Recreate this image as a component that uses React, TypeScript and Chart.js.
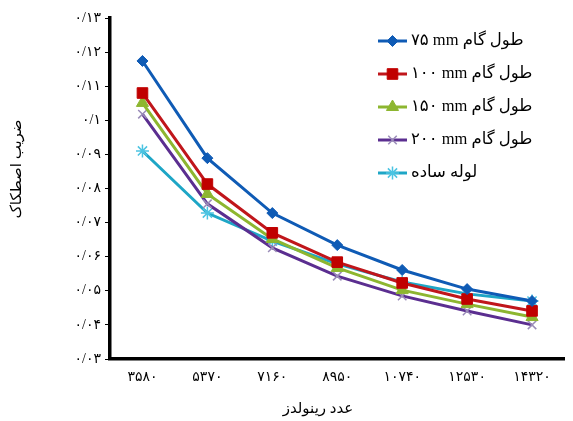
import React, { useEffect, useRef } from 'react';
import { Chart, registerables } from 'chart.js';
import { drawPoint } from 'chart.js/helpers';

Chart.register(...registerables);

const categories = ['۳۵۸۰', '۵۳۷۰', '۷۱۶۰', '۸۹۵۰', '۱۰۷۴۰', '۱۲۵۳۰', '۱۴۳۲۰'];

const pitch75 = [0.1174, 0.0889, 0.0728, 0.0634, 0.0561, 0.0505, 0.047];
const pitch100 = [0.108, 0.0813, 0.067, 0.0584, 0.0523, 0.0476, 0.0441];
const pitch150 = [0.1051, 0.0784, 0.0652, 0.0567, 0.0502, 0.0461, 0.0423];
const pitch200 = [0.1018, 0.0755, 0.0626, 0.0543, 0.0485, 0.0441, 0.04];
const plainTube = [0.091, 0.0728, 0.0646, 0.0579, 0.0526, 0.0491, 0.047];

const seriesLabels = ['۷۵ mm طول گام', '۱۰۰ mm طول گام', '۱۵۰ mm طول گام', '۲۰۰ mm طول گام', 'لوله ساده'];

const yTickValues = [0.03, 0.04, 0.05, 0.06, 0.07, 0.08, 0.09, 0.1, 0.11, 0.12, 0.13];
const yTickLabels = ['۰/۰۳', '۰/۰۴', '۰/۰۵', '۰/۰۶', '۰/۰۷', '۰/۰۸', '۰/۰۹', '۰/۱', '۰/۱۱', '۰/۱۲', '۰/۱۳'];

const xTitle = 'عدد رینولدز';
const yTitle = 'ضریب اصطکاک';

const FONT = "'Liberation Serif', 'DejaVu Sans', serif";

const legendAndTitles = {
  id: 'legendAndTitles',
  afterDraw(chart: any) {
    const ctx = chart.ctx;
    ctx.save();
    chart.data.datasets.forEach((ds: any, i: number) => {
      const y = 41 + i * 33;
      ctx.strokeStyle = ds.borderColor;
      ctx.lineWidth = 3;
      ctx.beginPath();
      ctx.moveTo(378, y);
      ctx.lineTo(407, y);
      ctx.stroke();
      ctx.fillStyle = ds.pointBackgroundColor;
      ctx.strokeStyle = ds.pointBorderColor;
      ctx.lineWidth = ds.pointBorderWidth;
      drawPoint(ctx, { pointStyle: ds.pointStyle, radius: ds.pointRadius, rotation: 0, borderWidth: ds.pointBorderWidth }, 392.5, y);
      ctx.fillStyle = '#000';
      ctx.font = `16.5px ${FONT}`;
      ctx.textAlign = 'left';
      ctx.textBaseline = 'middle';
      ctx.fillText(ds.label, 411, y);
    });
    ctx.fillStyle = '#000';
    ctx.font = `15px ${FONT}`;
    ctx.textAlign = 'center';
    ctx.textBaseline = 'middle';
    ctx.fillText(xTitle, 318, 409);
    ctx.translate(17, 169);
    ctx.rotate(-Math.PI / 2);
    ctx.fillText(yTitle, 0, 0);
    ctx.restore();
  },
};

function makeDataset(label: string, data: number[], color: string, style: string, radius: number, fill: string, stroke: string, bw: number) {
  return {
    label,
    data,
    borderColor: color,
    backgroundColor: color,
    borderWidth: 3,
    tension: 0,
    pointStyle: style,
    pointRadius: radius,
    pointBackgroundColor: fill,
    pointBorderColor: stroke,
    pointBorderWidth: bw,
  };
}

export default function App() {
  const ref = useRef<HTMLCanvasElement>(null);
  useEffect(() => {
    if (!ref.current) return;
    const chart = new Chart(ref.current, {
      type: 'line',
      data: {
        labels: categories,
        datasets: [
          makeDataset(seriesLabels[0], pitch75, '#0F5BB5', 'rectRot', 5.5, '#0F5BB5', '#0F5BB5', 1),
          makeDataset(seriesLabels[1], pitch100, '#C0161B', 'rect', 7.5, '#C00000', '#C00000', 1),
          makeDataset(seriesLabels[2], pitch150, '#8DB630', 'triangle', 7, '#8DB630', '#8DB630', 1),
          makeDataset(seriesLabels[3], pitch200, '#5B2E90', 'crossRot', 6, '#9A8CB8', '#9A8CB8', 1.5),
          makeDataset(seriesLabels[4], plainTube, '#1EA6C6', 'star', 6.5, '#4CC4E2', '#4CC4E2', 1.5),
        ],
      },
      options: {
        responsive: false,
        animation: false,
        layout: { padding: { top: 18, right: 4, left: 0, bottom: 0 } },
        plugins: { legend: { display: false }, tooltip: { enabled: false } },
        scales: {
          x: {
            offset: true,
            grid: { display: true, drawOnChartArea: false, drawTicks: false },
            border: { display: true, width: 3.5, color: '#000' },
            ticks: { color: '#000', font: { family: FONT, size: 14 }, padding: 10, maxRotation: 0, autoSkip: false },
            afterFit: (s: any) => { s.height = 62; },
          },
          y: {
            min: 0.03,
            max: 0.13,
            afterBuildTicks: (s: any) => { s.ticks = yTickValues.map((v) => ({ value: v })); },
            grid: { display: true, drawOnChartArea: false, drawTicks: true, tickLength: 5, color: '#000', lineWidth: 1 },
            border: { display: true, width: 3.5, color: '#000' },
            ticks: {
              color: '#000',
              font: { family: FONT, size: 14 },
              padding: 4,
              callback: (_v: any, i: number) => yTickLabels[i],
            },
            afterFit: (s: any) => { s.width = 110; },
          },
        },
      },
      plugins: [legendAndTitles],
    });
    return () => chart.destroy();
  }, []);
  return (
    <div style={{ position: 'absolute', left: 0, top: 0, width: 573, height: 421, background: '#fff' }}>
      <canvas ref={ref} width={573} height={421} />
    </div>
  );
}
